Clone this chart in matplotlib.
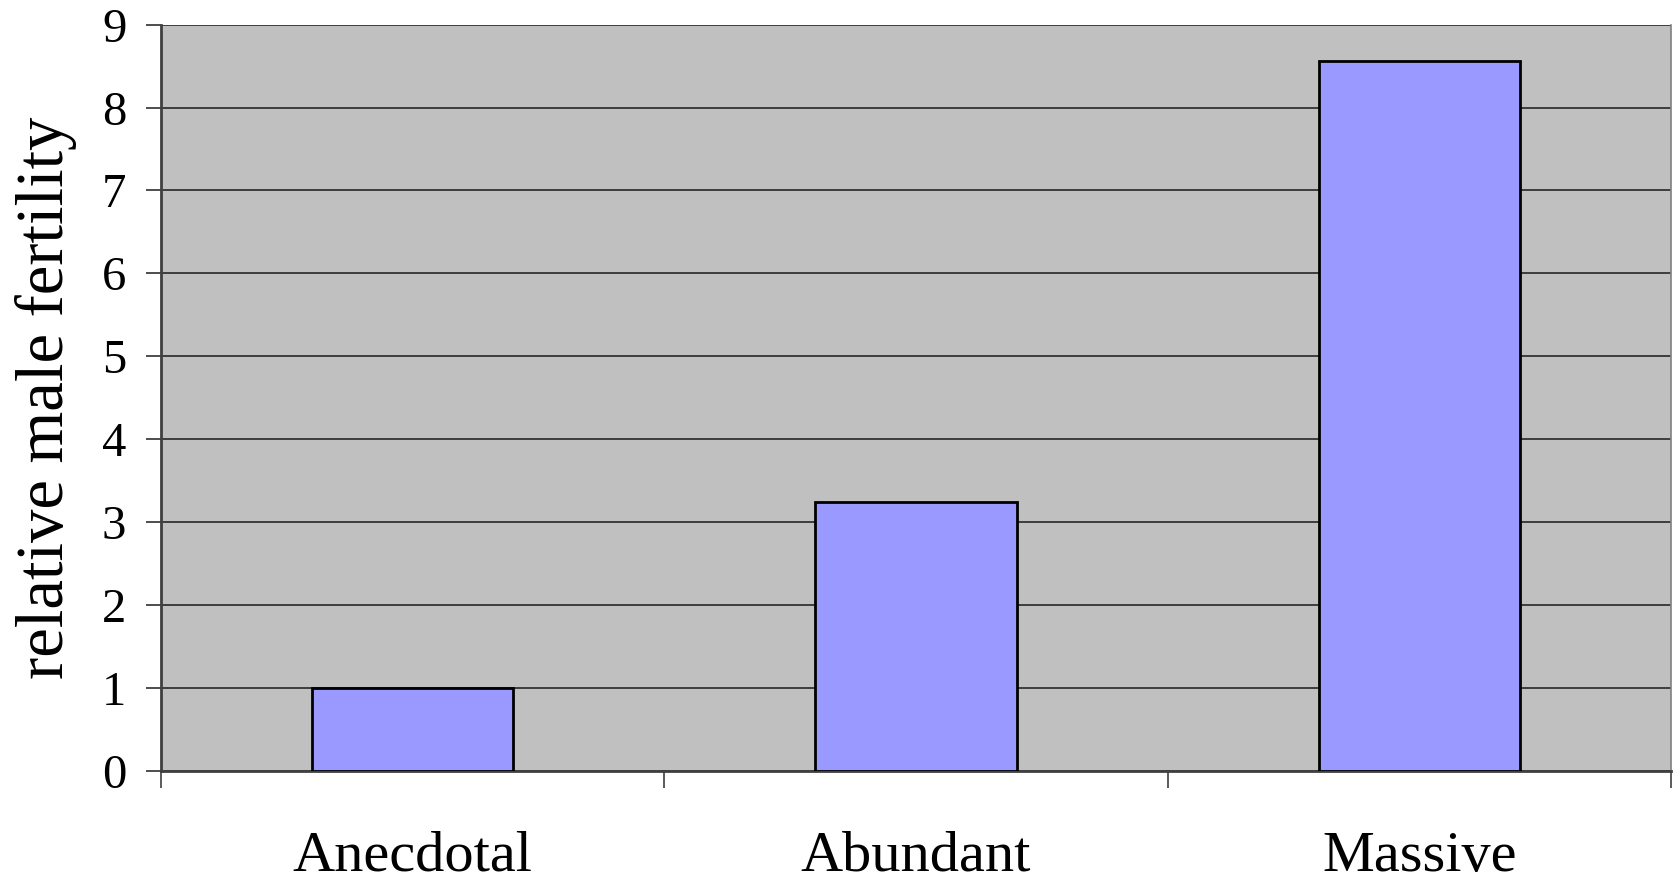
import matplotlib
matplotlib.use("Agg")
import matplotlib.pyplot as plt
from matplotlib.ticker import FixedLocator, NullFormatter

categories = ["Anecdotal", "Abundant", "Massive"]
fertility = [1.0, 3.24, 8.56]
y_ticks = [0, 1, 2, 3, 4, 5, 6, 7, 8, 9]

plt.rcParams["font.family"] = ["Liberation Serif", "DejaVu Serif"]

fig = plt.figure(figsize=(16.75, 8.81), dpi=100)
ax = fig.add_axes([161 / 1675, 1 - 771 / 881, (1671 - 161) / 1675, (771 - 24.6) / 881])
ax.set_facecolor("#C0C0C0")

x = list(range(len(categories)))
ax.bar(x, fertility, width=0.4, color="#9999FF", edgecolor="black", linewidth=2, zorder=3)

ax.set_xlim(-0.5, len(categories) - 0.5)
ax.set_ylim(0, 9)
ax.set_yticks(y_ticks)
ax.set_yticklabels([str(t) for t in y_ticks], fontsize=35)
ax.yaxis.grid(True, color="#1a1a1a", linewidth=1.1, zorder=1)
ax.set_axisbelow(True)

ax.set_xticks(x)
ax.set_xticklabels(categories, fontsize=42)
ax.tick_params(axis="x", which="major", length=0, pad=43)
ax.xaxis.set_minor_locator(FixedLocator([-0.5, 0.5, 1.5, 2.5]))
ax.xaxis.set_minor_formatter(NullFormatter())
ax.tick_params(axis="x", which="minor", length=12, width=1.2, color="#404040", direction="out")
ax.tick_params(axis="y", length=11, width=1.2, color="#303030", pad=14)

ax.set_ylabel("relative male fertility", fontsize=48, labelpad=18)

for side in ("left", "bottom"):
    ax.spines[side].set_color("#404040")
    ax.spines[side].set_linewidth(2)
ax.spines["top"].set_visible(False)
ax.spines["right"].set_color("#808080")
ax.spines["right"].set_linewidth(1.2)

fig.savefig("out.png", dpi=100)
